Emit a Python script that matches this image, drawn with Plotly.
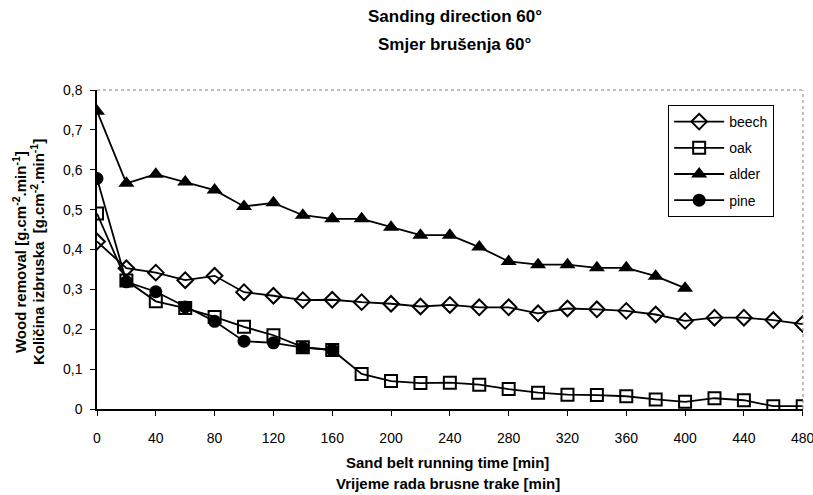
import plotly.graph_objects as go

time_beech = list(range(0, 481, 20))
beech = [0.42, 0.353, 0.342, 0.323, 0.334, 0.293, 0.284, 0.273, 0.274, 0.268, 0.264, 0.257,
         0.261, 0.255, 0.255, 0.240, 0.252, 0.250, 0.246, 0.237, 0.221, 0.229, 0.229, 0.223, 0.213]
time_oak = list(range(0, 481, 20))
oak = [0.49, 0.322, 0.270, 0.253, 0.231, 0.206, 0.185, 0.155, 0.148, 0.088, 0.070, 0.065,
       0.066, 0.061, 0.050, 0.041, 0.036, 0.035, 0.032, 0.024, 0.018, 0.027, 0.022, 0.007, 0.007]
time_alder = list(range(0, 401, 20))
alder = [0.747, 0.566, 0.589, 0.569, 0.549, 0.508, 0.517, 0.486, 0.477, 0.477, 0.456, 0.436,
         0.436, 0.406, 0.370, 0.362, 0.362, 0.354, 0.354, 0.333, 0.303]
time_pine = list(range(0, 161, 20))
pine = [0.578, 0.319, 0.294, 0.256, 0.220, 0.170, 0.166, 0.154, 0.148]

x_ticks = list(range(0, 481, 40))
y_ticks = [0, 0.1, 0.2, 0.3, 0.4, 0.5, 0.6, 0.7, 0.8]
y_tick_labels = ["0", "0,1", "0,2", "0,3", "0,4", "0,5", "0,6", "0,7", "0,8"]

FONT = "Liberation Sans, Arial, sans-serif"

fig = go.Figure()
series = [
    ("beech", time_beech, beech, dict(symbol="diamond-open", size=12, line=dict(width=2, color="black"))),
    ("oak", time_oak, oak, dict(symbol="square-open", size=12, line=dict(width=2, color="black"))),
    ("alder", time_alder, alder, dict(symbol="triangle-up", size=14, line=dict(width=0))),
    ("pine", time_pine, pine, dict(symbol="circle", size=13, line=dict(width=0))),
]
for name, xs, ys, mk in series:
    fig.add_trace(go.Scatter(x=xs, y=ys, name=name, mode="lines+markers", legendgroup=name,
                             line=dict(color="black", width=1.8),
                             marker=dict(color="black", **mk)))

fig.update_layout(
    width=813, height=495,
    margin=dict(l=97, r=10, t=90, b=86),
    paper_bgcolor="white", plot_bgcolor="white",
    font=dict(family=FONT, size=14, color="black"),
    showlegend=True,
    legend=dict(x=0.809, y=0.953, xanchor="left", yanchor="top",
                bordercolor="black", borderwidth=1, bgcolor="white",
                font=dict(size=14, family=FONT), tracegroupgap=5, itemwidth=50),
    xaxis=dict(range=[0, 480.2], tickvals=x_ticks, ticks="outside", ticklen=5, tickcolor="black",
               showline=True, linecolor="black", linewidth=1.5, showgrid=False, zeroline=False,
               tickfont=dict(size=14), ticklabelstandoff=10, ticklabeloverflow="allow",
               automargin=False),
    yaxis=dict(range=[0, 0.8], tickvals=y_ticks, ticktext=y_tick_labels, ticks="outside", ticklen=5,
               tickcolor="black",
               showline=True, linecolor="black", linewidth=1.5, showgrid=False, zeroline=False,
               tickfont=dict(size=14), ticklabelstandoff=5, automargin=False),
)

# dotted frame top & right
fig.add_shape(type="line", xref="paper", yref="paper", x0=0, x1=1, y0=1, y1=1,
              line=dict(color="gray", width=1, dash="dot"))
fig.add_shape(type="line", xref="paper", yref="paper", x0=1, x1=1, y0=0, y1=1,
              line=dict(color="gray", width=1, dash="dot"))

# titles
fig.add_annotation(text="<b>Sanding direction 60°</b>", xref="paper", yref="paper",
                   x=0.507, y=1.229, xanchor="center", yanchor="middle", showarrow=False,
                   font=dict(size=17, family=FONT))
fig.add_annotation(text="<b>Smjer brušenja 60°</b>", xref="paper", yref="paper",
                   x=0.507, y=1.144, xanchor="center", yanchor="middle", showarrow=False,
                   font=dict(size=17, family=FONT))

fig.add_annotation(text="<b>Sand belt running time [min]</b>", xref="paper", yref="paper",
                   x=0.497, y=-0.169, xanchor="center", yanchor="middle", showarrow=False,
                   font=dict(size=15, family=FONT))
fig.add_annotation(text="<b>Vrijeme rada brusne trake [min]</b>", xref="paper", yref="paper",
                   x=0.497, y=-0.232, xanchor="center", yanchor="middle", showarrow=False,
                   font=dict(size=15, family=FONT))
fig.add_annotation(text="<b>Wood removal [g.cm<sup>-2</sup>.min<sup>-1</sup>]</b>", xref="paper", yref="paper",
                   x=-0.1105, y=0.492, xanchor="center", yanchor="middle", showarrow=False, textangle=-90,
                   font=dict(size=15, family=FONT))
fig.add_annotation(text="<b>Količina izbruska\u00a0 [g.cm<sup>-2</sup>.min<sup>-1</sup>]</b>", xref="paper", yref="paper",
                   x=-0.085, y=0.492, xanchor="center", yanchor="middle", showarrow=False, textangle=-90,
                   font=dict(size=15, family=FONT))

fig.write_html("out.html", config={"displayModeBar": False},
               post_script="document.body.style.margin='0px';document.body.style.overflow='hidden';")
